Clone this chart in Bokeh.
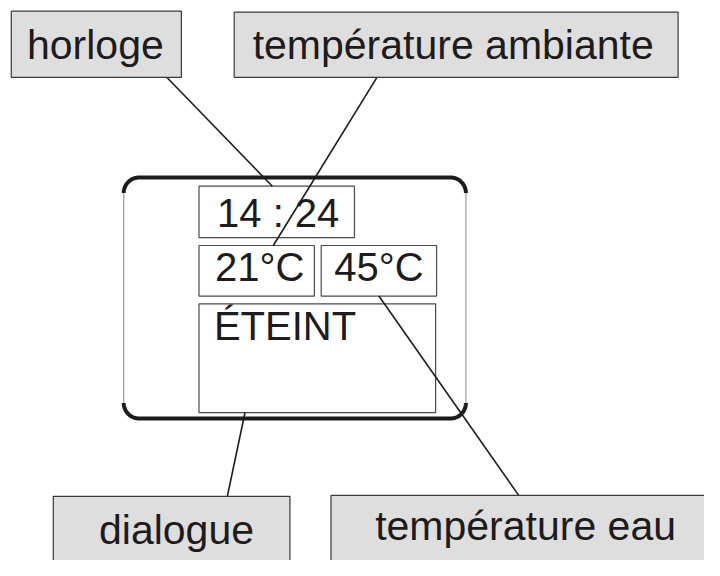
import numpy as np
from bokeh.plotting import figure
from bokeh.models import Range1d
from bokeh.core.properties import value
from bokeh.embed import file_html
from bokeh.resources import INLINE

# ---- data (reference pixel coordinates, y grows downward) ----
label_texts = ["horloge", "température ambiante", "dialogue", "température eau"]
label_left = [11, 239, 54, 338]
label_right = [185, 693, 296, 730]
label_top = [11, 12, 510, 509]
label_bottom = [79, 79, 590, 590]
label_tx = [97, 463, 180, 537]
label_ty = [60, 60, 559, 555]

screen_texts = ["14 : 24", "21°C", "45°C", "ÉTEINT"]
screen_left = [203, 203, 328, 203]
screen_right = [362, 321, 446, 445]
screen_top = [191, 252, 252, 312]
screen_bottom = [244, 304, 304, 424]
screen_tx = [284, 265, 387, 291]
screen_ty = [233, 288, 288, 349]

leader_x0 = [170, 385, 250, 387]
leader_y0 = [79, 79, 424, 304]
leader_x1 = [278, 279, 232, 530]
leader_y1 = [191, 252, 510, 509]

frame_left, frame_right, frame_top, frame_bottom, frame_radius = 126, 476, 182, 430, 16

FONT = value("Liberation Sans")
INK = "#1e1b1c"
BASELINE_FIX = 14  # renderer places alphabetic baseline lower than expected

p = figure(width=704, height=560, output_backend="svg", toolbar_location=None,
           x_range=Range1d(0, 720), y_range=Range1d(576, 0),
           min_border=0, background_fill_color="white", border_fill_color="white")
p.axis.visible = False
p.grid.visible = False
p.outline_line_color = None

# device frame: thin grey sides, thick black top/bottom with rounded corners
p.segment(x0=[frame_left, frame_right], y0=[frame_top + frame_radius] * 2,
          x1=[frame_left, frame_right], y1=[frame_bottom - frame_radius] * 2,
          line_color="#9a9a9a", line_width=1.2)

t = np.linspace(0, np.pi / 2, 20)
r = frame_radius
tl_x = frame_left + r - r * np.cos(t)
tl_y = frame_top + r - r * np.sin(t)
tr_x = frame_right - r + r * np.sin(t)
tr_y = frame_top + r - r * np.cos(t)
p.line(np.concatenate([tl_x, tr_x]), np.concatenate([tl_y, tr_y]),
       line_color=INK, line_width=4, line_join="round")
bl_x = frame_left + r - r * np.cos(t)
bl_y = frame_bottom - r + r * np.sin(t)
br_x = frame_right - r + r * np.sin(t)
br_y = frame_bottom - r + r * np.cos(t)
p.line(np.concatenate([bl_x, br_x]), np.concatenate([bl_y, br_y]),
       line_color=INK, line_width=4, line_join="round")

# screen boxes
p.quad(left=screen_left, right=screen_right, top=screen_top, bottom=screen_bottom,
       fill_color=None, line_color="#4a4a4a", line_width=1.2)

# leader lines
p.segment(x0=leader_x0, y0=leader_y0, x1=leader_x1, y1=leader_y1,
          line_color=INK, line_width=1.6)

# label boxes
p.quad(left=label_left, right=label_right, top=label_top, bottom=label_bottom,
       fill_color="#dedede", line_color="#3a3a3a", line_width=1.2)

p.text(x=label_tx, y=[v - BASELINE_FIX for v in label_ty], text=label_texts,
       text_font=FONT, text_font_size="41px", text_color=INK,
       text_align="center", text_baseline="alphabetic")
p.text(x=screen_tx, y=[v - BASELINE_FIX for v in screen_ty], text=screen_texts,
       text_font=FONT, text_font_size="40px", text_color=INK,
       text_align="center", text_baseline="alphabetic")

open("out.html", "w").write(file_html(p, INLINE))
